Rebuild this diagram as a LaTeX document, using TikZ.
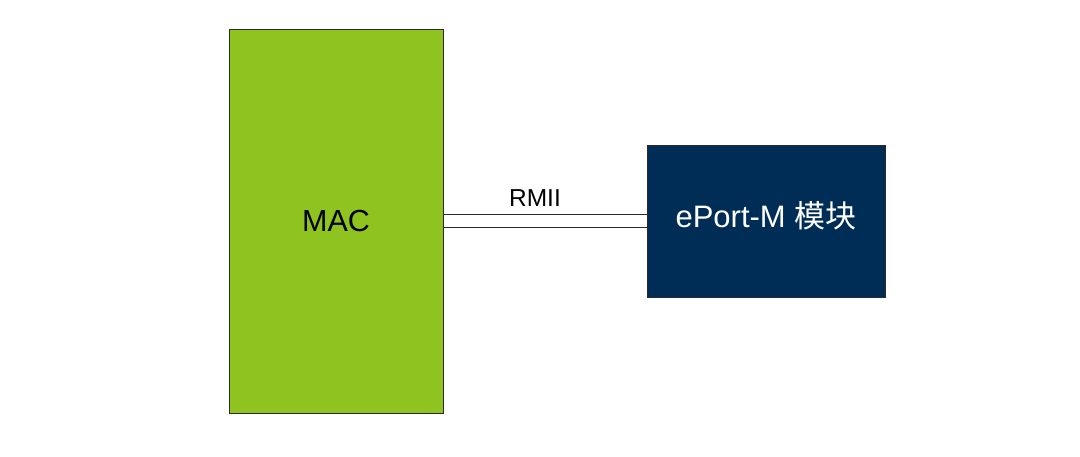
\documentclass[tikz,border=0pt]{standalone}
\usepackage{fontspec}
\setmainfont{Liberation Sans}
\newfontfamily\cjk{Noto Sans CJK SC}
\definecolor{macgreen}{HTML}{8FC31F}
\definecolor{portnavy}{HTML}{002D55}
\definecolor{edgegray}{HTML}{2A2A2A}
\begin{document}
\begin{tikzpicture}[x=1pt,y=-1pt,
  blockbox/.style={draw=edgegray,line width=0.9pt,inner sep=0pt,anchor=center},
  linkline/.style={draw=edgegray,line width=1.8pt}]
\useasboundingbox (0,0) rectangle (1080,457);
\node[blockbox,fill=macgreen,minimum width=214pt,minimum height=384pt,
      font=\fontsize{30.5}{36}\selectfont] (mac) at (336,221) {MAC};
\node[blockbox,fill=portnavy,minimum width=238pt,minimum height=152pt] (eport) at (766,221) {};
\node[text=white,font=\fontsize{31}{36}\selectfont] (eportlabel) at (766,216) {ePort-M {\cjk 模块}};
\draw[linkline] ([yshift=6.5pt]mac.east) -- ([yshift=6.5pt]eport.west);
\draw[linkline] ([yshift=-6.5pt]mac.east) -- ([yshift=-6.5pt]eport.west);
\node[font=\fontsize{24.5}{30}\selectfont] (rmii) at (535,198) {RMII};
\end{tikzpicture}
\end{document}
